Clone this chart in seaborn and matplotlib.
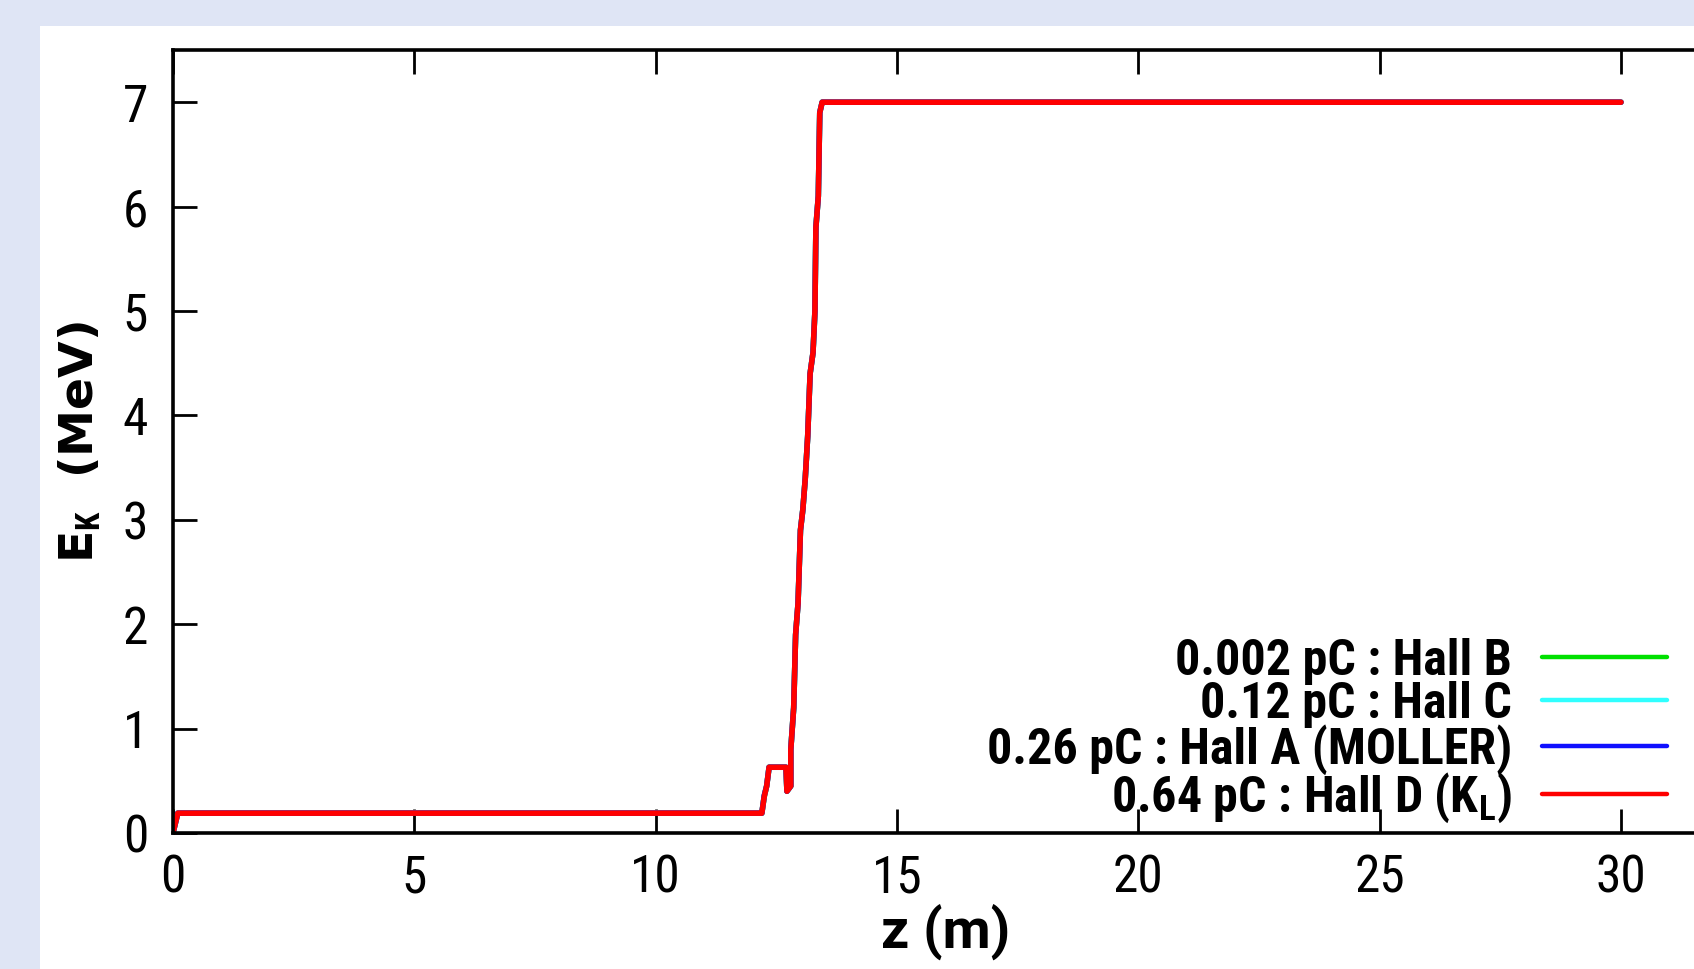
import numpy as np
import pandas as pd
import matplotlib
matplotlib.use('Agg')
import matplotlib.pyplot as plt
import matplotlib.font_manager as fm
from matplotlib.patches import Rectangle
from matplotlib.lines import Line2D
import seaborn as sns

# beam path (m) and kinetic energy (MeV) for each bunch charge
z_m = [0.0, 0.1, 12.15, 12.2, 12.25, 12.3, 12.35, 12.7, 12.72, 12.8, 12.8,
       12.86, 12.9, 12.95, 13.0, 13.05, 13.1, 13.15, 13.2, 13.26, 13.3, 13.32,
       13.37, 13.4, 13.45, 30.0]
ek_hall_b = [0.0, 0.19, 0.19, 0.19, 0.35, 0.45, 0.63, 0.63, 0.40, 0.45, 0.80,
             1.20, 1.90, 2.20, 2.90, 3.10, 3.40, 3.80, 4.40, 4.60, 5.00, 5.80,
             6.10, 6.90, 7.0, 7.0]
ek_hall_c = [0.0, 0.19, 0.19, 0.19, 0.35, 0.45, 0.63, 0.63, 0.40, 0.45, 0.80,
             1.20, 1.90, 2.20, 2.90, 3.10, 3.40, 3.80, 4.40, 4.60, 5.00, 5.80,
             6.10, 6.90, 7.0, 7.0]
ek_hall_a = [0.0, 0.19, 0.19, 0.19, 0.36, 0.45, 0.63, 0.63, 0.40, 0.45, 0.80,
             1.20, 1.90, 2.20, 2.90, 3.10, 3.40, 3.80, 4.40, 4.60, 5.00, 5.80,
             6.10, 6.90, 7.0, 7.0]
ek_hall_d = [0.0, 0.19, 0.19, 0.19, 0.35, 0.45, 0.63, 0.63, 0.40, 0.45, 0.80,
             1.20, 1.90, 2.20, 2.90, 3.10, 3.40, 3.80, 4.40, 4.60, 5.00, 5.80,
             6.10, 6.90, 7.0, 7.0]

labels = ['0.002 pC : Hall B', '0.12 pC : Hall C',
          '0.26 pC : Hall A (MOLLER)', r'0.64 pC : Hall D (K$_{\mathbf{L}}$)']
colors = ['#00e000', '#30ffff', '#1010ff', '#ff0000']
x_ticks = [0, 5, 10, 15, 20, 25, 30]
y_ticks = [0, 1, 2, 3, 4, 5, 6, 7]

sns.set_style('ticks')

# pick a narrow sans if one is installed
avail = {f.name for f in fm.fontManager.ttflist}
cands = ['Liberation Sans Narrow', 'Arial Narrow', 'Noto Sans Condensed',
         'Roboto Condensed', 'Open Sans Condensed', 'DejaVu Sans Condensed']
cands += sorted(f.name for f in fm.fontManager.ttflist
                if 'condensed' in str(f.stretch) and 'Mono' not in f.name)
narrow_name = next((c for c in cands if c in avail), 'Roboto')
narrow = [narrow_name, 'DejaVu Sans']

plt.rcParams['font.family'] = narrow
plt.rcParams['font.stretch'] = 'condensed'
for k in ['text.color', 'axes.labelcolor', 'xtick.color', 'ytick.color']:
    plt.rcParams[k] = 'black'
plt.rcParams['mathtext.fontset'] = 'custom'
plt.rcParams['mathtext.bf'] = narrow_name + ':bold'
plt.rcParams['mathtext.rm'] = narrow_name

fig = plt.figure(figsize=(16.94, 9.69), dpi=100, facecolor='#dfe5f5')
fig.add_artist(Rectangle((40 / 1694, 0), 1, 1 - 26 / 969,
                         transform=fig.transFigure, facecolor='white',
                         edgecolor='none', zorder=0))
ax = fig.add_axes([173 / 1694, 136 / 969, 1544.5 / 1694, 783 / 969])
ax.set_facecolor('white')

series = [ek_hall_b, ek_hall_c, ek_hall_a, ek_hall_d]
for ek, lab, col in zip(series, labels, colors):
    df = pd.DataFrame({'z': z_m, 'ek': ek})
    sns.lineplot(data=df, x='z', y='ek', sort=False, estimator=None,
                 color=col, lw=4, ax=ax, label=lab, legend=False)

ax.set_xlim(0, 32)
ax.set_ylim(0, 7.5)
ax.set_xticks(x_ticks)
ax.set_yticks(y_ticks)
ax.tick_params(direction='in', length=17, width=2, top=True, right=True,
               labelsize=37, colors='black')
ax.tick_params(axis='y', pad=18)
ax.tick_params(axis='x', pad=15)
for s in ax.spines.values():
    s.set_linewidth(2.6)
    s.set_color('black')

ax.set_xlabel('z (m)', fontsize=40, fontweight='bold', labelpad=0,
              family=['Roboto', 'DejaVu Sans'], fontstretch='normal')
ax.set_ylabel(r'E$_{\mathbf{K}}$  (MeV)', fontsize=34, fontweight='bold',
              family=['DejaVu Sans'], fontstretch='normal', labelpad=14)

handles = [Line2D([], [], color=c, lw=3.2) for c in colors]
ax.legend(handles, labels, markerfirst=False, loc='lower right',
          bbox_to_anchor=(1667 / 1694, 144 / 969),
          bbox_transform=fig.transFigure, frameon=False,
          prop={'family': narrow, 'weight': 'bold', 'size': 36,
                'stretch': 'condensed'},
          handlelength=2.5, handletextpad=0.6, labelspacing=-0.08,
          borderpad=0, borderaxespad=0)

fig.savefig('out.png', dpi=100, facecolor=fig.get_facecolor())
